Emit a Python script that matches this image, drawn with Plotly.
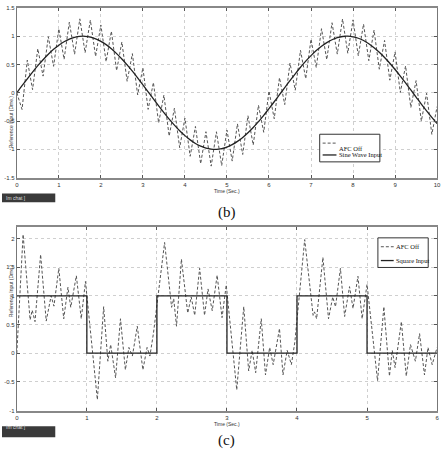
import plotly.graph_objects as go

W, H = 448, 454
def px(x): return x / W
def py(y): return 1 - y / H

# ---------------- (b) sine wave response ----------------
t_b = [round(0.125 * k, 3) for k in range(81)]
sine_input = [0.000, 0.125, 0.247, 0.366, 0.479, 0.585, 0.682, 0.768, 0.841, 0.902,
              0.949, 0.981, 0.997, 0.999, 0.984, 0.954, 0.909, 0.851, 0.778, 0.693,
              0.598, 0.494, 0.382, 0.264, 0.141, 0.017, -0.108, -0.231, -0.351, -0.465,
              -0.572, -0.670, -0.757, -0.832, -0.895, -0.944, -0.978, -0.996, -0.999, -0.986,
              -0.959, -0.917, -0.859, -0.790, -0.706, -0.613, -0.510, -0.398, -0.279, -0.158,
              -0.033, 0.092, 0.215, 0.336, 0.451, 0.560, 0.657, 0.746, 0.823, 0.887,
              0.938, 0.974, 0.995, 1.000, 0.989, 0.964, 0.924, 0.868, 0.798, 0.717,
              0.625, 0.523, 0.412, 0.295, 0.174, 0.050, -0.075, -0.199, -0.319, -0.434,
              -0.544]
afc_ripple_b = [0.00,
                -0.42, 0.33, -0.31, 0.30, -0.29, 0.31, -0.30, 0.29, -0.31, 0.30,
                -0.30, 0.31, -0.29, 0.30, -0.31, 0.29, -0.30, 0.31, -0.30, 0.30,
                -0.29, 0.31, -0.30, 0.30, -0.31, 0.29, -0.30, 0.31, -0.30, 0.30,
                -0.30, 0.31, -0.29, 0.30, -0.31, 0.29, -0.30, 0.31, -0.30, 0.30,
                -0.29, 0.31, -0.30, 0.30, -0.31, 0.29, -0.30, 0.31, -0.30, 0.30,
                -0.30, 0.31, -0.29, 0.30, -0.31, 0.29, -0.30, 0.31, -0.30, 0.30,
                -0.29, 0.31, -0.30, 0.30, -0.31, 0.29, -0.30, 0.31, -0.30, 0.30,
                -0.30, 0.31, -0.29, 0.30, -0.31, 0.29, -0.30, 0.31, -0.30, 0.30]
afc_off_b = [s + r for s, r in zip(sine_input, afc_ripple_b)]

# ---------------- (c) square wave response ----------------
t_sq = [0, 1, 1, 2, 2, 3, 3, 4, 4, 5, 5, 6]
square_input = [1, 1, 0, 0, 1, 1, 0, 0, 1, 1, 0, 0]

t_c = [0.00, 0.09, 0.19, 0.22, 0.26, 0.34, 0.42, 0.49, 0.53, 0.60, 0.67, 0.73, 0.77, 0.85, 0.92, 0.98,
       1.15, 1.24, 1.30, 1.34, 1.41, 1.48, 1.55, 1.60, 1.65, 1.72, 1.80, 1.86, 1.90, 1.95,
       2.11, 2.21, 2.24, 2.28, 2.35, 2.44, 2.49, 2.54, 2.61, 2.68, 2.73, 2.79, 2.86, 2.93, 2.99,
       3.14, 3.24, 3.31, 3.36, 3.41, 3.49, 3.55, 3.61, 3.66, 3.75, 3.80, 3.86, 3.92, 3.97,
       4.11, 4.23, 4.25, 4.28, 4.37, 4.45, 4.51, 4.55, 4.62, 4.68, 4.75, 4.80, 4.87, 4.93, 5.00,
       5.15, 5.24, 5.32, 5.36, 5.40, 5.49, 5.56, 5.62, 5.69, 5.75, 5.82, 5.87, 5.93, 6.00]
afc_off_c = [0.00, 2.07, 0.58, 0.75, 0.55, 1.72, 0.56, 1.00, 0.82, 1.48, 0.60, 1.15, 0.80, 1.35, 0.60, 1.25,
             -0.81, 0.81, -0.14, 0.15, -0.43, 0.60, -0.29, 0.10, -0.05, 0.47, -0.29, 0.10, -0.05, 0.34,
             1.93, 0.80, 0.95, 0.47, 1.64, 0.70, 0.98, 0.66, 1.48, 0.66, 1.12, 0.74, 1.36, 0.62, 1.19,
             -0.64, 0.81, -0.31, 0.05, -0.34, 0.60, -0.38, 0.10, -0.20, 0.43, -0.38, 0.05, -0.20, 0.20,
             1.98, 0.66, 0.72, 0.60, 1.67, 0.60, 0.98, 0.81, 1.48, 0.64, 1.16, 0.78, 1.34, 0.60, 1.20,
             -0.48, 0.81, -0.40, 0.05, -0.25, 0.55, -0.40, 0.15, -0.14, 0.34, -0.38, 0.10, -0.20, 0.10]

yticks_b = [-1.5, -1, -0.5, 0, 0.5, 1, 1.5]
yticks_c = [-1, -0.5, 0, 0.5, 1, 1.5, 2]

legend_b = ["AFC Off", "Sine Wave Input"]
legend_c = ["AFC Off", "Square Input"]

DASH = "3px,2px"
DASH_COLOR = "#555555"
SOLID_COLOR = "#222222"

fig = go.Figure()
fig.add_trace(go.Scatter(x=t_b, y=afc_off_b, mode="lines", name=legend_b[0],
                         line=dict(color=DASH_COLOR, width=1, dash=DASH),
                         xaxis="x", yaxis="y", showlegend=False))
fig.add_trace(go.Scatter(x=t_b, y=sine_input, mode="lines", name=legend_b[1],
                         line=dict(color=SOLID_COLOR, width=1.3, shape="spline"),
                         xaxis="x", yaxis="y", showlegend=False))
fig.add_trace(go.Scatter(x=t_c, y=afc_off_c, mode="lines", name=legend_c[0],
                         line=dict(color=DASH_COLOR, width=1, dash=DASH),
                         xaxis="x2", yaxis="y2", showlegend=False))
fig.add_trace(go.Scatter(x=t_sq, y=square_input, mode="lines", name=legend_c[1],
                         line=dict(color=SOLID_COLOR, width=1.3),
                         xaxis="x2", yaxis="y2", showlegend=False))

tickfont = dict(family="Liberation Sans", size=6, color="#333333")
common_x = dict(dtick=1, showgrid=True, gridcolor="#cfcfcf", griddash="dot", gridwidth=1,
                ticks="inside", ticklen=3, tickcolor="#555555", showline=True, mirror="ticks",
                linecolor="#888888", linewidth=2, zeroline=False, tickfont=tickfont,
                domain=[px(15), px(441)])
common_y = dict(showgrid=True, gridcolor="#cfcfcf", griddash="dot", gridwidth=1,
                ticks="inside", ticklen=3, tickcolor="#555555", showline=True, mirror="ticks",
                linecolor="#777777", linewidth=1, zeroline=False, tickfont=tickfont)

fig.update_layout(
    width=W, height=H, margin=dict(l=0, r=0, t=0, b=0),
    paper_bgcolor="white", plot_bgcolor="white", showlegend=False,
    xaxis=dict(common_x, range=[0, 10], anchor="y"),
    yaxis=dict(common_y, range=[-1.5, 1.5], tickvals=yticks_b,
               ticktext=[f"{v:g}" for v in yticks_b],
               domain=[py(177), py(5)], anchor="x"),
    xaxis2=dict(common_x, range=[0, 6], anchor="y2"),
    yaxis2=dict(common_y, range=[-1, 2.2], tickvals=yticks_c,
                ticktext=[f"{v:g}" for v in yticks_c],
                domain=[py(413), py(227)], anchor="x2"),
)

ann_font = dict(family="Liberation Sans", size=5, color="#333333")
leg_font = dict(family="Liberation Serif", size=6.5, color="#111111")
annotations = [
    dict(text="Reference Input (Dme.)", x=px(4), y=py(91), xref="paper", yref="paper",
         textangle=-90, showarrow=False, font=ann_font),
    dict(text="Reference Input (Dme.)", x=px(4), y=py(320), xref="paper", yref="paper",
         textangle=-90, showarrow=False, font=ann_font),
    dict(text="Time (Sec.)", x=px(228), y=py(191), xref="paper", yref="paper",
         showarrow=False, font=ann_font),
    dict(text="Time (Sec.)", x=px(228), y=py(432), xref="paper", yref="paper",
         showarrow=False, font=ann_font),
    dict(text="(b)", x=px(228), y=py(212), xref="paper", yref="paper",
         showarrow=False, font=dict(family="Liberation Serif", size=15, color="#111111")),
    dict(text="(c)", x=px(228), y=py(454), xref="paper", yref="paper", yanchor="bottom",
         showarrow=False, font=dict(family="Liberation Serif", size=15, color="#111111")),
    dict(text="Im chat ]", x=px(2), y=py(197.5), xref="paper", yref="paper", xanchor="left",
         showarrow=False, font=dict(family="Liberation Sans", size=5, color="#dddddd")),
    dict(text="Im chat ]", x=px(2), y=py(434.5), xref="paper", yref="paper", xanchor="left",
         showarrow=False, font=dict(family="Liberation Sans", size=5, color="#dddddd")),
    # legend texts
    dict(text=legend_b[0], x=px(340), y=py(142), xref="paper", yref="paper", xanchor="left",
         showarrow=False, font=leg_font),
    dict(text=legend_b[1], x=px(340), y=py(154), xref="paper", yref="paper", xanchor="left",
         showarrow=False, font=leg_font),
    dict(text=legend_c[0], x=px(397), y=py(247), xref="paper", yref="paper", xanchor="left",
         showarrow=False, font=leg_font),
    dict(text=legend_c[1], x=px(397), y=py(261), xref="paper", yref="paper", xanchor="left",
         showarrow=False, font=leg_font),
]
fig.update_layout(annotations=annotations)

shapes = [
    dict(type="rect", xref="paper", yref="paper", x0=0, x1=px(54), y0=py(202), y1=py(193),
         fillcolor="#3a3a3a", line=dict(width=0), layer="below"),
    dict(type="rect", xref="paper", yref="paper", x0=0, x1=px(54), y0=py(440), y1=py(429),
         fillcolor="#3a3a3a", line=dict(width=0), layer="below"),
    # legend (b)
    dict(type="rect", xref="paper", yref="paper", x0=px(322), x1=px(383), y0=py(161), y1=py(133),
         fillcolor="white", line=dict(color="#333333", width=1), layer="above"),
    dict(type="line", xref="paper", yref="paper", x0=px(325), x1=px(339), y0=py(142), y1=py(142),
         line=dict(color=DASH_COLOR, width=1, dash=DASH), layer="above"),
    dict(type="line", xref="paper", yref="paper", x0=px(325), x1=px(339), y0=py(154), y1=py(154),
         line=dict(color=SOLID_COLOR, width=1.3), layer="above"),
    # legend (c)
    dict(type="rect", xref="paper", yref="paper", x0=px(381), x1=px(432), y0=py(268), y1=py(238),
         fillcolor="white", line=dict(color="#333333", width=1), layer="above"),
    dict(type="line", xref="paper", yref="paper", x0=px(384), x1=px(397), y0=py(247), y1=py(247),
         line=dict(color=DASH_COLOR, width=1, dash=DASH), layer="above"),
    dict(type="line", xref="paper", yref="paper", x0=px(384), x1=px(397), y0=py(261), y1=py(261),
         line=dict(color=SOLID_COLOR, width=1.3), layer="above"),
]
fig.update_layout(shapes=shapes)

fig.write_html("out.html")
